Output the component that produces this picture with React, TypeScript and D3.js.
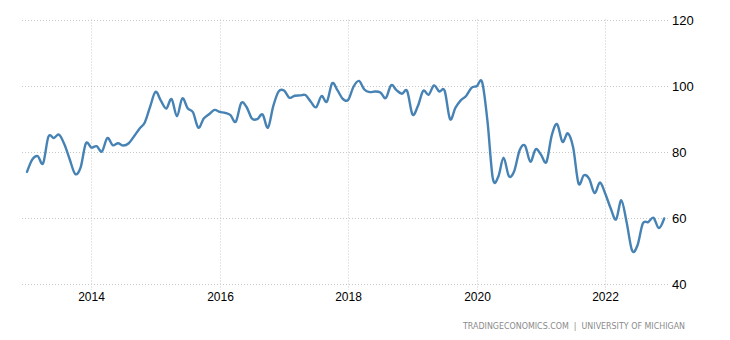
import React from "react";
import * as d3 from "d3";

// University of Michigan consumer sentiment, monthly, Jan 2013 - Dec 2022
const startYear = 2013;
const sentiment = [
  73.8, 77.6, 78.6, 76.4, 84.5, 84.1, 85.1, 82.1, 77.5, 73.2, 75.1, 82.5,
  81.2, 81.6, 80.0, 84.1, 81.9, 82.5, 81.8, 82.5, 84.6, 86.9, 88.8, 93.6,
  98.1, 95.4, 93.0, 95.9, 90.7, 96.1, 93.1, 91.9, 87.2, 90.0, 91.3, 92.6,
  92.0, 91.7, 91.0, 89.0, 94.7, 93.5, 90.0, 89.8, 91.2, 87.2, 93.8, 98.2,
  98.5, 96.3, 96.9, 97.0, 97.1, 95.1, 93.4, 96.8, 95.1, 100.7, 98.5, 95.9,
  95.7, 99.7, 101.4, 98.8, 98.0, 98.2, 97.9, 96.2, 100.1, 98.6, 97.5, 98.3,
  91.2, 93.8, 98.4, 97.2, 100.0, 98.2, 98.4, 89.8, 93.2, 95.5, 96.8, 99.3,
  99.8, 101.0, 89.1, 71.8, 72.3, 78.1, 72.5, 74.1, 80.4, 81.8, 76.9, 80.7,
  79.0, 76.8, 84.9, 88.3, 82.9, 85.5, 81.2, 70.3, 72.8, 71.7, 67.4, 70.6,
  67.2, 62.8, 59.4, 65.2, 58.4, 50.0, 51.5, 58.2, 58.6, 59.9, 56.8, 59.7,
];
const yearTicks = [2014, 2016, 2018, 2020, 2022];
const valueTicks = [40, 60, 80, 100, 120];
const sourceText = "TRADINGECONOMICS.COM  |  UNIVERSITY OF MICHIGAN";

const W = 730;
const H = 340;

export default function App() {
  // x in months since Jan 2013
  const x = d3.scaleLinear().domain([0, 108]).range([27, 605.3]);
  const y = d3.scaleLinear().domain([40, 120]).range([283.5, 19.5]);

  const line = d3
    .line<number>()
    .x((d, i) => x(i))
    .y((d) => y(d))
    .curve(d3.curveCardinal.tension(0));

  const gridColor = "#c8c8c8";

  return (
    <svg
      width={W}
      height={H}
      style={{ position: "absolute", left: 0, top: 0 }}
      fontFamily="'Liberation Sans', Arial, sans-serif"
    >
      <rect width={W} height={H} fill="#fff" />
      {valueTicks.map((v) => (
        <g key={v}>
          <line
            x1={22}
            x2={668}
            y1={Math.round(y(v)) + 0.5}
            y2={Math.round(y(v)) + 0.5}
            stroke={gridColor}
            strokeDasharray="1,2"
          />
          <text x={672} y={y(v) + 5} fontSize={13} fill="#000">
            {v}
          </text>
        </g>
      ))}
      {yearTicks.map((yr) => {
        const xx = Math.round(x((yr - startYear) * 12)) + 0.5;
        return (
          <g key={yr}>
            <line
              x1={xx}
              x2={xx}
              y1={19.5}
              y2={290}
              stroke={gridColor}
              strokeDasharray="1,2"
            />
            <text
              x={xx}
              y={301}
              fontSize={12}
              textAnchor="middle"
              fill="#000"
            >
              {yr}
            </text>
          </g>
        );
      })}
      <path
        d={line(sentiment) || ""}
        fill="none"
        stroke="#4682b4"
        strokeWidth={2.4}
        strokeLinejoin="round"
        strokeLinecap="round"
      />
      <text
        x={463}
        y={329}
        fontSize={9}
        fill="#8a8a8a"
        textLength={222}
        lengthAdjust="spacingAndGlyphs"
        fontFamily="'DejaVu Sans', Verdana, sans-serif"
        style={{ whiteSpace: "pre" }}
      >
        {sourceText}
      </text>
    </svg>
  );
}
